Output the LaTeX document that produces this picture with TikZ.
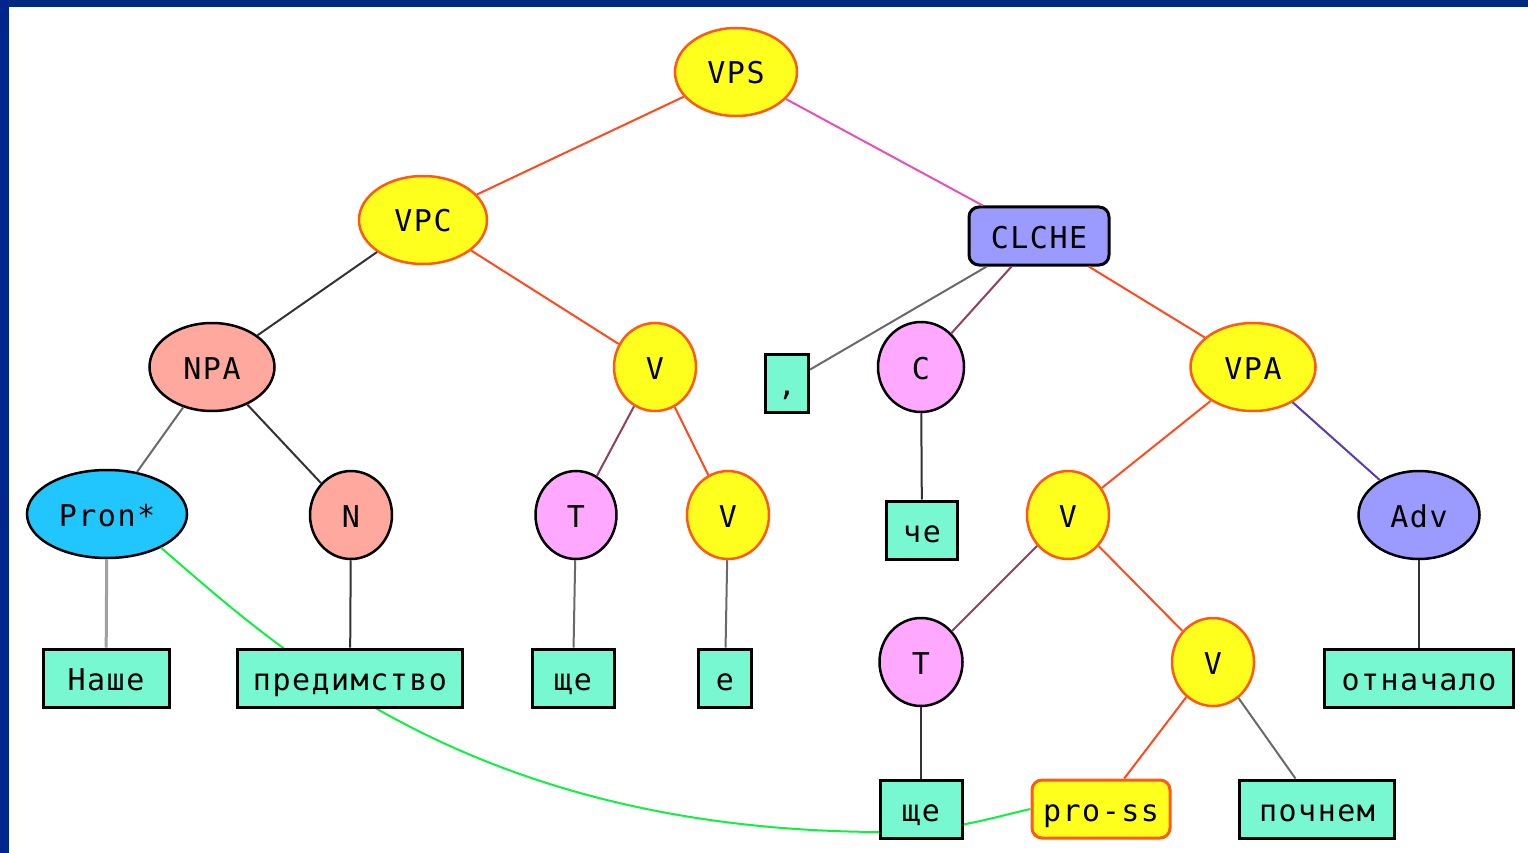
\documentclass[tikz,border=0pt]{standalone}
\usepackage{fontspec}
\setmonofont{DejaVu Sans Mono}[LetterSpace=5]
\usetikzlibrary{shapes.geometric}
\definecolor{frameblue}{HTML}{002A80}
\definecolor{yelfill}{HTML}{FFFF1E}
\definecolor{yeledge}{HTML}{FF5A14}
\definecolor{salfill}{HTML}{FFA89E}
\definecolor{cyanfill}{HTML}{22C6FF}
\definecolor{pinkfill}{HTML}{FFA8FF}
\definecolor{bluefill}{HTML}{9A9AFF}
\definecolor{leaffill}{HTML}{78F8D0}
\definecolor{eorange}{HTML}{FF4A20}
\definecolor{epink}{HTML}{E850B8}
\definecolor{emaroon}{HTML}{904060}
\definecolor{epurple}{HTML}{5A3AB0}
\definecolor{edark}{HTML}{333333}
\definecolor{egray}{HTML}{6A6A6A}
\definecolor{elight}{HTML}{A0A0A0}
\definecolor{egreen}{HTML}{10F040}
\newcommand{\lbl}{\ttfamily\fontsize{30}{32}\selectfont}
\tikzset{
  base/.style={font=\lbl, text=black, inner sep=0pt, text height=24pt, text depth=0pt},
  yel/.style={base, ellipse, draw=yeledge, fill=yelfill, line width=2.5pt},
  sal/.style={base, ellipse, draw=black, fill=salfill, line width=2.5pt},
  cya/.style={base, ellipse, draw=black, fill=cyanfill, line width=2.5pt},
  pnk/.style={base, ellipse, draw=black, fill=pinkfill, line width=2.5pt},
  blu/.style={base, ellipse, draw=black, fill=bluefill, line width=2.5pt},
  leaf/.style={base, rectangle, draw=black, fill=leaffill, line width=3pt, minimum height=58pt},
  phrase/.style={base, rectangle, rounded corners=10pt, draw=black, fill=bluefill, line width=3pt, minimum height=58pt},
  trace/.style={base, rectangle, rounded corners=10pt, draw=yeledge, fill=yelfill, line width=3pt, minimum height=58pt},
  sz/.style 2 args={minimum width=#1pt, minimum height=#2pt},
  edge/.style={line width=2pt, draw=#1},
}
\begin{document}
\begin{tikzpicture}[x=1pt,y=-1pt]
\useasboundingbox (0,0) rectangle (1528,853);
\fill[white] (0,0) rectangle (1528,853);
\fill[frameblue] (0,0) rectangle (1528,7);
\fill[frameblue!90!blue] (0,0) rectangle (9,853);

% coreference link, drawn first so the boxes cover it
\coordinate (pronexit) at (162,548);
\node[cya,sz={160}{88}] (pron) at (107,514) {Pron*};
\node[trace,minimum width=138pt] (pross) at (1101,809) {pro-ss};
\draw[edge=egreen] (pron.-32) .. controls (280,650) and (470,830) .. (880,832)
      .. controls (950,832) and (990,818) .. (pross.west);

% nodes
\node[yel,sz={122}{88}] (vps) at (736,72) {VPS};
\node[yel,sz={128}{88}] (vpc) at (423,220) {VPC};
\node[phrase,minimum width=140pt] (clche) at (1039,236) {CLCHE};
\node[sal,sz={125}{88}] (npa) at (212,367) {NPA};
\node[yel,sz={82}{88}] (v1) at (655,367) {V};
\node[leaf,minimum width=43pt] (comma) at (787,383) {,};
\node[pnk,sz={86}{90}] (c) at (921,367) {C};
\node[yel,sz={125}{88}] (vpa) at (1253,367) {VPA};
\node[sal,sz={82}{88}] (n) at (351,515) {N};
\node[pnk,sz={81}{88}] (t1) at (576,515) {T};
\node[yel,sz={82}{88}] (v2) at (728,515) {V};
\node[leaf,minimum width=71pt] (che) at (922,530) {че};
\node[yel,sz={82}{88}] (v3) at (1068,515) {V};
\node[blu,sz={121}{88}] (adv) at (1419,515) {Adv};
\node[leaf,minimum width=126pt] (nashe) at (106,678) {Наше};
\node[leaf,minimum width=225pt] (pred) at (350,678) {предимство};
\node[leaf,minimum width=82pt] (shte1) at (573,678) {ще};
\node[leaf,minimum width=53pt] (e) at (725,678) {е};
\node[pnk,sz={83}{88}] (t2) at (921,662) {T};
\node[yel,sz={82}{88}] (v4) at (1213,662) {V};
\node[leaf,minimum width=189pt] (otn) at (1419,678) {отначало};
\node[leaf,minimum width=82pt] (shte2) at (921,809) {ще};
\node[leaf,minimum width=155pt] (pochnem) at (1317,809) {почнем};

% tree edges
\draw[edge=eorange] (vps) -- (vpc);
\draw[edge=epink] (vps) -- (clche);
\draw[edge=edark] (vpc) -- (npa);
\draw[edge=eorange] (vpc) -- (v1);
\draw[edge=egray] (clche) -- (comma);
\draw[edge=emaroon] (clche) -- (c);
\draw[edge=eorange] (clche) -- (vpa);
\draw[edge=egray] (npa) -- (pron);
\draw[edge=edark] (npa) -- (n);
\draw[edge=emaroon] (v1) -- (t1);
\draw[edge=eorange] (v1) -- (v2);
\draw[edge=edark] (c) -- (che);
\draw[edge=eorange] (vpa) -- (v3);
\draw[edge=epurple] (vpa) -- (adv);
\draw[edge=elight,line width=3pt] (pron) -- (nashe);
\draw[edge=edark] (n) -- (pred);
\draw[edge=egray] (t1) -- (shte1);
\draw[edge=egray] (v2) -- (e);
\draw[edge=emaroon] (v3) -- (t2);
\draw[edge=eorange] (v3) -- (v4);
\draw[edge=edark] (adv) -- (otn);
\draw[edge=edark] (t2) -- (shte2);
\draw[edge=eorange] (v4) -- (pross);
\draw[edge=egray] (v4) -- (pochnem);
\end{tikzpicture}
\end{document}
